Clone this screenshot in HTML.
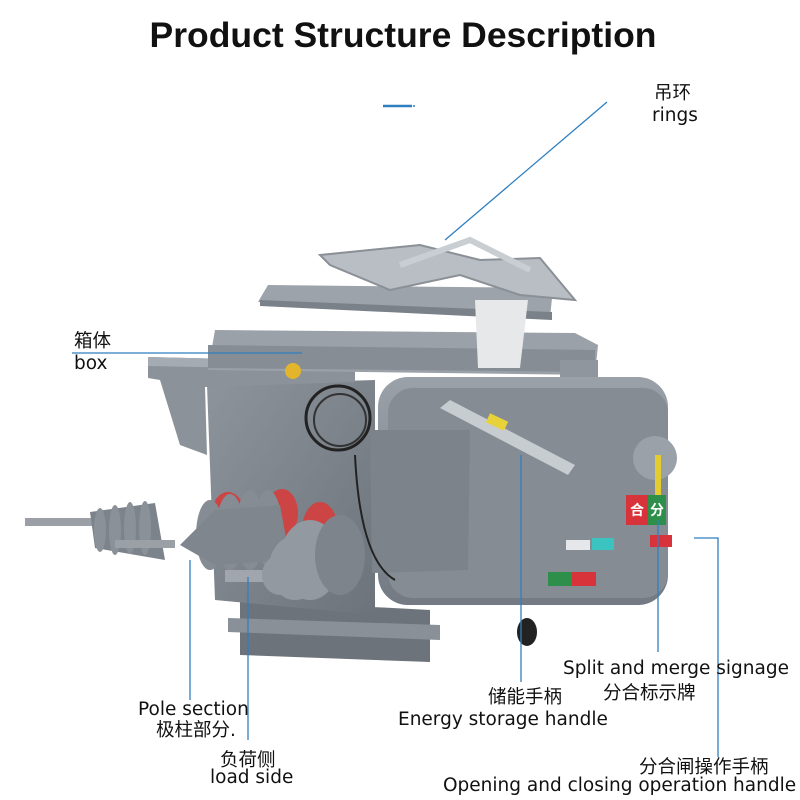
<!DOCTYPE html>
<html><head><meta charset="utf-8"><style>
body{margin:0;background:#fff;}
.w{position:relative;width:800px;height:800px;overflow:hidden;font-family:"DejaVu Sans","Noto Sans CJK SC",sans-serif;}
.t{position:absolute;white-space:nowrap;color:#111;line-height:1.2;font-size:18.5px;}
</style></head><body><div class="w">
<svg width="800" height="800" style="position:absolute;left:0;top:0">
<defs>
<linearGradient id="g1" x1="0" y1="0" x2="1" y2="1"><stop offset="0" stop-color="#8d949c"/><stop offset="1" stop-color="#6c737b"/></linearGradient>
<linearGradient id="g2" x1="0" y1="0" x2="0" y2="1"><stop offset="0" stop-color="#9aa1a9"/><stop offset="1" stop-color="#737a83"/></linearGradient>
</defs>
<path d="M240,600 L430,610 L430,662 L240,655 Z" fill="#6d737a"/>
<path d="M228,618 L440,625 L440,640 L228,632 Z" fill="#8a9097"/>
<path d="M207,385 L375,380 L375,615 L215,600 Z" fill="url(#g1)"/>
<path d="M148,357 L355,362 L355,382 L205,387 L207,455 L180,445 L160,380 L148,378 Z" fill="#8b9299"/>
<path d="M148,357 L355,362 L355,370 L148,366 Z" fill="#a4abb2"/>
<path d="M215,330 L575,333 L598,345 L595,375 L208,370 Z" fill="#9aa1a8"/>
<path d="M208,345 L595,350 L595,372 L208,368 Z" fill="#868d95"/>
<path d="M560,360 L598,360 L598,400 L560,400 Z" fill="#8f969d"/>
<path d="M268,285 L553,288 L550,318 L258,302 Z" fill="#9ca3aa"/>
<path d="M260,300 L552,312 L552,320 L260,306 Z" fill="#7a8189"/>
<path d="M475,300 L528,300 L520,368 L478,368 Z" fill="#e6e8ea"/>
<path d="M320,255 L420,245 L480,260 L540,258 L575,300 L520,295 L460,275 L390,290 L330,265 Z" fill="#b8bec4" stroke="#8a9096" stroke-width="2"/>
<path d="M400,265 L470,240 L530,270" fill="none" stroke="#c9ced3" stroke-width="6"/>
<rect x="378" y="377" width="290" height="228" rx="30" fill="url(#g2)"/>
<rect x="388" y="388" width="280" height="210" rx="25" fill="#858c94"/>
<path d="M370,430 L470,430 L468,570 L372,573 Z" fill="#7c838b"/>
<path d="M440,408 L450,400 L575,465 L568,475 Z" fill="#c7ccd1"/>
<rect x="487" y="417" width="20" height="10" fill="#e8d23a" transform="rotate(25 497 422)"/>
<circle cx="655" cy="458" r="22" fill="#9aa1a8"/>
<rect x="655" y="455" width="6" height="60" fill="#e2cc30"/>
<rect x="626" y="495" width="22" height="30" fill="#d8333a"/>
<rect x="648" y="495" width="18" height="30" fill="#2e8f4a"/>
<text x="637" y="515" font-size="14" fill="#fff" text-anchor="middle" font-weight="bold">合</text>
<text x="657" y="515" font-size="14" fill="#fff" text-anchor="middle" font-weight="bold">分</text>
<rect x="592" y="538" width="22" height="12" fill="#3bc3c0"/>
<rect x="650" y="535" width="22" height="12" fill="#d8333a"/>
<rect x="548" y="572" width="24" height="14" fill="#2e8f4a"/>
<rect x="572" y="572" width="24" height="14" fill="#d8333a"/>
<rect x="566" y="540" width="24" height="10" fill="#e5e7ea"/>
<ellipse cx="527" cy="632" rx="10" ry="14" fill="#222"/>
<circle cx="338" cy="418" r="32" fill="none" stroke="#222" stroke-width="3"/>
<circle cx="340" cy="420" r="26" fill="none" stroke="#333" stroke-width="2"/>
<path d="M355,455 Q360,560 395,580" fill="none" stroke="#222" stroke-width="2"/>
<circle cx="293" cy="371" r="8" fill="#e2b52c"/>
<ellipse cx="228" cy="520" rx="18" ry="28" fill="#c44"/>
<ellipse cx="282" cy="513" rx="16" ry="24" fill="#c44"/>
<ellipse cx="320" cy="530" rx="18" ry="28" fill="#c44"/>
<rect x="25" y="518" width="70" height="8" fill="#9aa0a6"/>
<path d="M90,512 L155,503 L165,560 L95,548 Z" fill="#7c838a"/>
<g fill="#8a9198"><ellipse cx="100" cy="530" rx="6" ry="22"/><ellipse cx="115" cy="530" rx="6" ry="25"/><ellipse cx="130" cy="528" rx="6" ry="26"/><ellipse cx="145" cy="528" rx="6" ry="27"/></g>
<rect x="115" y="540" width="60" height="8" fill="#9aa0a6"/>
<g fill="#858c93"><ellipse cx="210" cy="535" rx="14" ry="35"/><ellipse cx="230" cy="532" rx="14" ry="38"/><ellipse cx="250" cy="530" rx="14" ry="40"/><ellipse cx="268" cy="528" rx="14" ry="38"/></g>
<path d="M180,545 L215,510 L280,505 L290,560 L215,565 Z" fill="#7f868d"/>
<rect x="225" y="570" width="70" height="12" fill="#a0a6ac"/>
<g fill="#9399a0"><ellipse cx="310" cy="560" rx="30" ry="40"/><ellipse cx="295" cy="568" rx="26" ry="32"/><ellipse cx="280" cy="575" rx="18" ry="20"/></g>
<ellipse cx="340" cy="555" rx="25" ry="40" fill="#7d848b"/>
<g stroke="#2f7fc1" stroke-width="1.3" fill="none">
<path d="M383,106 L412,106" stroke-width="2.5"/>
<path d="M607,102 L445,240"/>
<path d="M72,353 L302,353"/>
<path d="M190,560 L190,700"/>
<path d="M248,577 L248,740"/>
<path d="M521,455 L521,682"/>
<path d="M658,520 L658,652"/>
<path d="M694,538 L718,538 L718,757"/>
</g>
<circle cx="414" cy="106" r="1" fill="#2f7fc1"/>
</svg>
<div class="t" style="left:0;width:806px;text-align:center;top:14px;font-size:35.5px;font-weight:bold;font-family:'Liberation Sans',sans-serif;">Product Structure Description</div>
<div class="t" style="left:654px;top:83px;">吊环</div>
<div class="t" style="left:652px;top:105px;">rings</div>
<div class="t" style="left:74px;top:331px;">箱体</div>
<div class="t" style="left:74px;top:353px;">box</div>
<div class="t" style="left:138px;top:699px;">Pole section</div>
<div class="t" style="left:156px;top:720px;">极柱部分.</div>
<div class="t" style="left:220px;top:750px;">负荷侧</div>
<div class="t" style="left:210px;top:767px;">load side</div>
<div class="t" style="left:488px;top:687px;">储能手柄</div>
<div class="t" style="left:398px;top:709px;">Energy storage handle</div>
<div class="t" style="left:563px;top:658px;">Split and merge signage</div>
<div class="t" style="left:603px;top:683px;">分合标示牌</div>
<div class="t" style="left:639px;top:757px;">分合闸操作手柄</div>
<div class="t" style="left:443px;top:775px;">Opening and closing operation handle</div>
</div></body></html>
